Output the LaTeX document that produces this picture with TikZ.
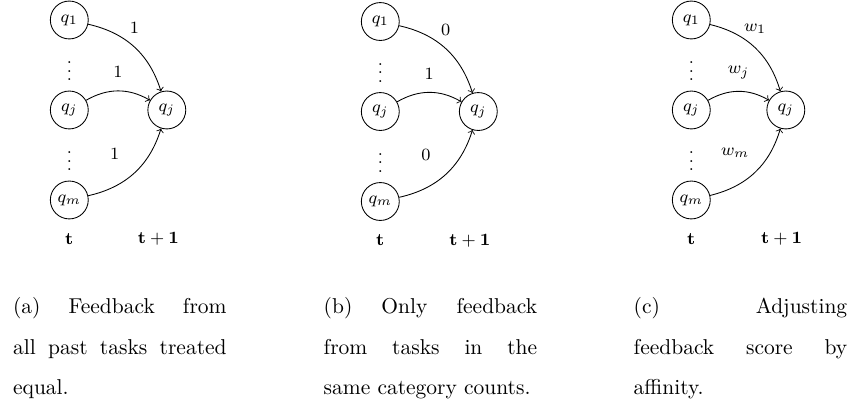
\documentclass[tikz,border=0pt]{standalone}
\tikzset{
	task/.style={circle, draw, minimum size=0.62cm, inner sep=0pt, font=\footnotesize},
	wlabel/.style={font=\footnotesize, inner sep=0pt},
	timelabel/.style={font=\footnotesize},
	dots/.style={font=\footnotesize, inner sep=0pt},
	subcap/.style={text width=3.492cm, align=justify, inner sep=0pt, anchor=north west,
		font=\normalsize\setlength{\baselineskip}{18.84pt}}
}
\begin{document}
\begin{tikzpicture}
	\useasboundingbox (0,0) rectangle (13.936,-6.641);
	
	% (a) every past task counts the same
	\begin{scope}[xshift=1.1335cm]
		\node[task] (qa1) at (0,-0.327) {$q_1$};
		\node[task] (qaj) at (0,-1.799) {$q_j$};
		\node[task] (qam) at (0,-3.271) {$q_m$};
		\node[task] (qanext) at (1.595,-1.799) {$q_j$};
		\node[dots] (da1) at (0,-1.063) {$\vdots$};
		\node[dots] (da2) at (0,-2.535) {$\vdots$};
		\draw[->] (qa1) to[bend left=30] node[wlabel, midway, yshift=8.8pt] {$1$} (qanext);
		\draw[->] (qaj) to[bend left=30] node[wlabel, midway, yshift=8.7pt] {$1$} (qanext);
		\draw[->] (qam) to[bend right=30] node[wlabel, midway, xshift=-9.2pt, yshift=8.9pt] {$1$} (qanext);
		\node[timelabel] (ta0) at (0,-3.909) {$\mathbf{t}$};
		\node[timelabel] (ta1) at (1.456,-3.909) {$\mathbf{t+1}$};
	\end{scope}
	
	% (b) same category only
	\begin{scope}[xshift=6.2206cm, yshift=-0.025cm]
		\node[task] (qb1) at (0,-0.327) {$q_1$};
		\node[task] (qbj) at (0,-1.799) {$q_j$};
		\node[task] (qbm) at (0,-3.271) {$q_m$};
		\node[task] (qbnext) at (1.603,-1.799) {$q_j$};
		\node[dots] (db1) at (0,-1.063) {$\vdots$};
		\node[dots] (db2) at (0,-2.535) {$\vdots$};
		\draw[->] (qb1) to[bend left=30] node[wlabel, midway, yshift=8.8pt] {$0$} (qbnext);
		\draw[->] (qbj) to[bend left=30] node[wlabel, midway, yshift=8.7pt] {$1$} (qbnext);
		\draw[->] (qbm) to[bend right=30] node[wlabel, midway, xshift=-9.2pt, yshift=8.9pt] {$0$} (qbnext);
		\node[timelabel] (tb0) at (0,-3.909) {$\mathbf{t}$};
		\node[timelabel] (tb1) at (1.467,-3.909) {$\mathbf{t+1}$};
	\end{scope}
	
	% (c) weighted by affinity
	\begin{scope}[xshift=11.3076cm]
		\node[task] (qc1) at (0,-0.327) {$q_1$};
		\node[task] (qcj) at (0,-1.799) {$q_j$};
		\node[task] (qcm) at (0,-3.271) {$q_m$};
		\node[task] (qcnext) at (1.546,-1.799) {$q_j$};
		\node[dots] (dc1) at (0,-1.063) {$\vdots$};
		\node[dots] (dc2) at (0,-2.535) {$\vdots$};
		\draw[->] (qc1) to[bend left=30] node[wlabel, midway, yshift=8.8pt] {$w_1$} (qcnext);
		\draw[->] (qcj) to[bend left=30] node[wlabel, midway, yshift=8.7pt] {$w_j$} (qcnext);
		\draw[->] (qcm) to[bend right=30] node[wlabel, midway, xshift=-9.2pt, yshift=8.9pt] {$w_m$} (qcnext);
		\node[timelabel] (tc0) at (0,-3.909) {$\mathbf{t}$};
		\node[timelabel] (tc1) at (1.479,-3.909) {$\mathbf{t+1}$};
	\end{scope}
	
	% captions
	\node[subcap] (capa) at (0.2077,-4.861) {(a) Feedback from\linebreak all past tasks treated\linebreak equal.};
	\node[subcap] (capb) at (5.288,-4.861) {(b) Only feedback\linebreak from tasks in the\linebreak same category counts.};
	\node[subcap] (capc) at (10.359,-4.861) {(c) Adjusting\linebreak feedback score by\linebreak affinity.};
\end{tikzpicture}
\end{document}
